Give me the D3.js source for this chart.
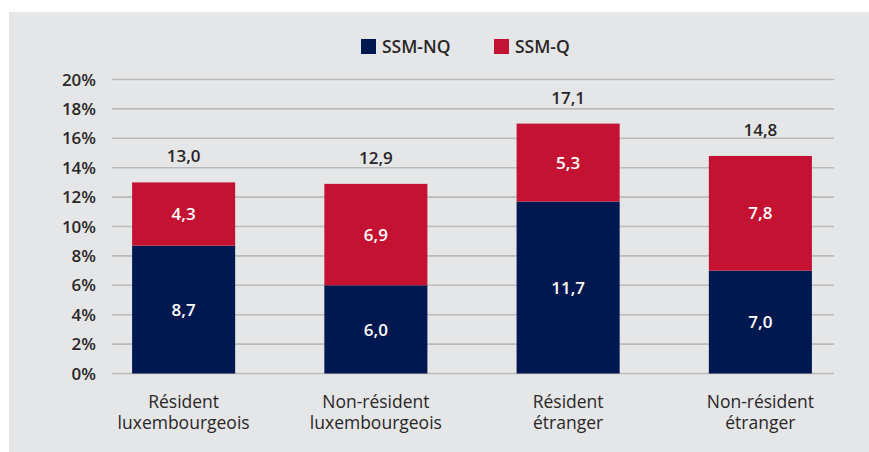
<!DOCTYPE html>
<html>
<head>
<meta charset="utf-8">
<script src="https://cdn.jsdelivr.net/npm/d3@7"></script>
<style>
  body { margin: 0; background: #fff; }
  svg text { font-family: "Open Sans", "Noto Sans", sans-serif; }
</style>
</head>
<body>
<div id="chart"></div>
<script>
// data
const categories = [
  ["Résident", "luxembourgeois"],
  ["Non-résident", "luxembourgeois"],
  ["Résident", "étranger"],
  ["Non-résident", "étranger"]
];
const seriesNames = ["SSM-NQ", "SSM-Q"];
const ssmNQ = [8.7, 6.0, 11.7, 7.0];
const ssmQ = [4.3, 6.9, 5.3, 7.8];
const totals = [13.0, 12.9, 17.1, 14.8];
const yTicks = [0, 2, 4, 6, 8, 10, 12, 14, 16, 18, 20];

const colors = ["#001850", "#c41232"];
const textColor = "#2a2627";

const width = 869, height = 452;

const svg = d3.select("#chart")
  .append("svg")
    .attr("width", width)
    .attr("height", height);

// grey panel
svg.append("rect")
  .attr("x", 9).attr("y", 12)
  .attr("width", width - 9).attr("height", height - 12)
  .attr("fill", "#e5e6e8");

const y = d3.scaleLinear().domain([0, 20]).range([373.5, 79.5]);

const x = d3.scaleBand()
  .domain(d3.range(categories.length))
  .range([87.5, 856.5])
  .paddingInner(0.464)
  .paddingOuter(0.232);

// gridlines + tick labels
const grid = svg.append("g");
grid.selectAll("line")
  .data(yTicks)
  .join("line")
    .attr("x1", 112).attr("x2", 834)
    .attr("y1", d => y(d)).attr("y2", d => y(d))
    .attr("stroke", "#bababa")
    .attr("stroke-width", 1.6);

grid.selectAll("text")
  .data(yTicks)
  .join("text")
    .attr("x", 96)
    .attr("y", d => y(d))
    .attr("dy", "0.36em")
    .attr("text-anchor", "end")
    .attr("font-size", 17)
    .attr("font-weight", 600)
    .attr("fill", textColor)
    .text(d => d + "%");

// stacked data
const rows = categories.map((c, i) => ({ i: i, "SSM-NQ": ssmNQ[i], "SSM-Q": ssmQ[i] }));
const stack = d3.stack().keys(seriesNames)(rows);

const fmt = v => d3.format(".1f")(v).replace(".", ",");

const layers = svg.append("g")
  .selectAll("g")
  .data(stack)
  .join("g")
    .attr("fill", (d, k) => colors[k]);

layers.selectAll("rect")
  .data(d => d)
  .join("rect")
    .attr("x", d => x(d.data.i))
    .attr("width", x.bandwidth())
    .attr("y", d => y(d[1]))
    .attr("height", d => y(d[0]) - y(d[1]));

layers.selectAll("text")
  .data(d => d)
  .join("text")
    .attr("x", d => x(d.data.i) + x.bandwidth() / 2)
    .attr("y", d => (y(d[0]) + y(d[1])) / 2)
    .attr("dy", "0.36em")
    .attr("text-anchor", "middle")
    .attr("font-size", 17)
    .attr("font-weight", 600)
    .attr("fill", "#fff")
    .text(d => fmt(d[1] - d[0]));

// totals above the bars
svg.append("g")
  .selectAll("text")
  .data(totals)
  .join("text")
    .attr("x", (d, i) => x(i) + x.bandwidth() / 2)
    .attr("y", (d, i) => y(ssmNQ[i] + ssmQ[i]) - 20)
    .attr("text-anchor", "middle")
    .attr("font-size", 17)
    .attr("font-weight", 600)
    .attr("fill", textColor)
    .text(d => fmt(d));

// category labels, one text per line
const catLines = categories.flatMap((lines, i) => lines.map((t, j) => ({ i, j, t })));
svg.append("g")
  .selectAll("text")
  .data(catLines)
  .join("text")
    .attr("x", d => x(d.i) + x.bandwidth() / 2)
    .attr("y", d => 408 + d.j * 20.5)
    .attr("text-anchor", "middle")
    .attr("font-size", 17.5)
    .attr("fill", textColor)
    .text(d => d.t);

// legend
const legendX = [361, 494];
const legend = svg.append("g")
  .selectAll("g")
  .data(seriesNames)
  .join("g")
    .attr("transform", (d, k) => `translate(${legendX[k]},39)`);

legend.append("rect")
  .attr("width", 15).attr("height", 15)
  .attr("fill", (d, k) => colors[k]);

legend.append("text")
  .attr("x", 21)
  .attr("y", 14)
  .attr("font-size", 17.5)
  .attr("font-weight", 600)
  .attr("fill", textColor)
  .text(d => d);
</script>
</body>
</html>
